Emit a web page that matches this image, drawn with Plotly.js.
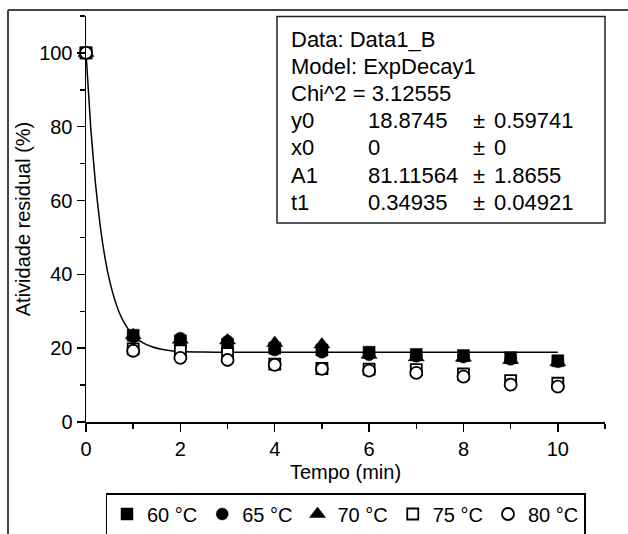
<!DOCTYPE html>
<html>
<head>
<meta charset="utf-8">
<script src="https://cdn.plot.ly/plotly-3.0.1.min.js"></script>
<style>
html,body{margin:0;padding:0;background:#fff;}
#chart{width:628px;height:534px;}
</style>
</head>
<body>
<div id="chart"></div>
<script>
// ---- data ----
var tempo = [0, 1, 2, 3, 4, 5, 6, 7, 8, 9, 10];
var seriesNames = ['60 °C', '65 °C', '70 °C', '75 °C', '80 °C'];
var y60 = [100, 23.5, 22.0, 21.0, 20.0, 19.5, 18.9, 18.3, 18.0, 17.4, 16.6];
var y65 = [100, 23.0, 22.7, 21.9, 19.5, 18.9, 18.2, 17.8, 17.6, 17.0, 16.3];
var y70 = [100, 23.5, 22.3, 22.1, 21.4, 21.0, 18.2, 17.5, 17.4, 16.8, 16.2];
var y75 = [100, 19.8, 19.3, 18.5, 15.7, 14.5, 14.3, 14.2, 13.0, 11.2, 10.5];
var y80 = [100, 19.3, 17.4, 16.8, 15.5, 14.4, 13.9, 13.3, 12.3, 10.1, 9.6];

// fitted ExpDecay1 curve, as drawn
var fitX = [0, 0.1, 0.2, 0.3, 0.4, 0.5, 0.6, 0.7, 0.8, 0.9, 1.0, 1.2, 1.4, 1.6, 1.8, 2.0, 2.5, 3, 4, 6, 8, 10];
var fitY = [100, 79.8, 64.7, 53.3, 44.7, 38.3, 33.5, 29.8, 27.1, 25.1, 23.5, 21.5, 20.4, 19.7, 19.3, 19.1, 18.95, 18.9, 18.9, 18.9, 18.9, 18.9];

// fit report box text
var boxLines = ['Data: Data1_B', 'Model: ExpDecay1', 'Chi^2 = 3.12555'];
var paramNames = ['y0', 'x0', 'A1', 't1'];
var paramValues = ['18.8745', '0', '81.11564', '0.34935'];
var paramErrors = ['0.59741', '0', '1.8655', '0.04921'];
var pmSign = '±';

var xTitle = 'Tempo (min)';
var yTitle = 'Atividade residual (%)';

// ---- styling ----
var FONT = 'Liberation Sans, Arial, Helvetica, sans-serif';
var seriesY = [y60, y65, y70, y75, y80];
var symbols = ['square', 'circle', 'triangle-up', 'square', 'circle'];
var fills = ['#000', '#000', '#000', '#fff', '#fff'];
var sizes = [12, 12, 14, 11, 12];

var traces = [{
  x: fitX, y: fitY, mode: 'lines', type: 'scatter',
  line: {color: '#000', width: 1.5, shape: 'spline', smoothing: 0.5},
  showlegend: false, hoverinfo: 'skip', cliponaxis: false
}];
for (var i = 0; i < seriesNames.length; i++) {
  traces.push({
    x: tempo, y: seriesY[i], name: seriesNames[i], mode: 'markers', type: 'scatter',
    cliponaxis: false,
    marker: {symbol: symbols[i], size: sizes[i], color: fills[i],
             line: {color: '#000', width: (i >= 3 ? 1.8 : 0.5)}}
  });
}

// plot geometry helpers (paper coords)
var L = 86, R = 605, T = 16, B = 422, W = 628, H = 534;
function px(x) { return (x - L) / (R - L); }
function py(y) { return (B - y) / (B - T); }

var annotations = [];
var rowY0 = 39.5, rowStep = 27.1;
var BOXFONT = {family: FONT, size: 22, color: '#000'};
function addText(x, y, t) {
  annotations.push({xref: 'paper', yref: 'paper', x: px(x), y: y,
    xanchor: 'left', yanchor: 'middle', showarrow: false, text: t, font: BOXFONT});
}
for (var r = 0; r < boxLines.length; r++) {
  addText(289, py(rowY0 + rowStep * r), boxLines[r]);
}
for (var k = 0; k < paramNames.length; k++) {
  var yy = py(rowY0 + rowStep * (boxLines.length + k));
  addText(289, yy, paramNames[k]);
  addText(366, yy, paramValues[k]);
  addText(471, yy, pmSign);
  addText(492, yy, paramErrors[k]);
}

var shapes = [
  // fit report box
  {type: 'rect', xref: 'paper', yref: 'paper', x0: px(277), x1: px(605), y0: py(223), y1: py(16.5),
   line: {color: '#222', width: 1.5}, fillcolor: 'rgba(0,0,0,0)'},
  // outer frame (top and left edges)
  {type: 'line', xref: 'paper', yref: 'paper', x0: px(8), x1: px(640), y0: py(10), y1: py(10),
   line: {color: '#444', width: 2}},
  {type: 'line', xref: 'paper', yref: 'paper', x0: px(8), x1: px(8), y0: py(10), y1: py(540),
   line: {color: '#444', width: 2}}
];

var axisCommon = {
  showline: true, linecolor: '#000', linewidth: 1.5,
  ticks: 'outside', ticklen: 8, tickwidth: 1.5, tickcolor: '#000',
  tickfont: {family: FONT, size: 20, color: '#000'},
  showgrid: false, zeroline: false, fixedrange: true, automargin: false
};

var layout = {
  width: W, height: H,
  margin: {l: L, r: W - R, t: T, b: H - B, pad: 0, autoexpand: false},
  paper_bgcolor: '#fff', plot_bgcolor: '#fff',
  font: {family: FONT, size: 20, color: '#000'},
  showlegend: true,
  legend: {orientation: 'h', xref: 'container', x: 345.5 / W, xanchor: 'center',
           yref: 'container', y: 1 - 493 / H, yanchor: 'top',
           bordercolor: '#000', borderwidth: 1.5, bgcolor: '#fff',
           font: {family: FONT, size: 20, color: '#000'}, itemwidth: 30},
  xaxis: Object.assign({}, axisCommon, {
    range: [0, 11], tick0: 0, dtick: 2,
    minor: {dtick: 1, tick0: 0, ticks: 'outside', ticklen: 5, tickwidth: 1.5, tickcolor: '#000', showgrid: false},
    title: {text: xTitle, font: {family: FONT, size: 20, color: '#000'}, standoff: 6}
  }),
  yaxis: Object.assign({}, axisCommon, {
    range: [0, 110], tick0: 0, dtick: 20,
    minor: {dtick: 10, tick0: 0, ticks: 'outside', ticklen: 5, tickwidth: 1.5, tickcolor: '#000', showgrid: false},
    title: {text: yTitle, font: {family: FONT, size: 20, color: '#000'}, standoff: 3}
  }),
  annotations: annotations,
  shapes: shapes
};

Plotly.newPlot('chart', traces, layout, {displayModeBar: false, staticPlot: true});
</script>
</body>
</html>
